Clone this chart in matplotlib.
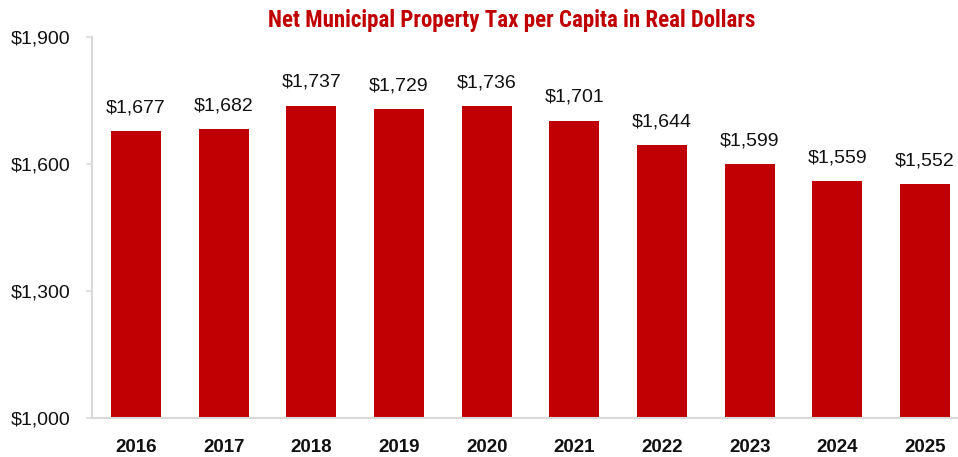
import matplotlib
matplotlib.use("Agg")
import matplotlib.pyplot as plt
from matplotlib.ticker import FuncFormatter

years = ["2016", "2017", "2018", "2019", "2020", "2021", "2022", "2023", "2024", "2025"]
tax_per_capita = [1677, 1682, 1737, 1729, 1736, 1701, 1644, 1599, 1559, 1552]
y_ticks = [1000, 1300, 1600, 1900]

BAR_RED = "#C00000"
AXIS_GREY = "#D9D9D9"
TEXT = "#111111"
SANS = ["Liberation Sans", "DejaVu Sans"]
TITLE_FONT = ["Roboto Condensed", "Liberation Sans", "DejaVu Sans"]

W, H = 958, 457
fig = plt.figure(figsize=(W / 100, H / 100), dpi=100)
ax = fig.add_axes([92 / W, (H - 418) / H, (958 - 92) / W, (418 - 37) / H])

x = list(range(len(years)))
ax.bar(x, tax_per_capita, width=0.57, color=BAR_RED, zorder=2)

for xi, v in zip(x, tax_per_capita):
    ax.annotate(f"${v:,}", (xi, v), xytext=(0, 11), textcoords="offset points",
                ha="center", va="bottom", fontsize=14, family=SANS, color=TEXT)

ax.set_ylim(1000, 1900)
ax.set_xlim(-0.502, 9.376)
ax.set_yticks(y_ticks)
ax.yaxis.set_major_formatter(FuncFormatter(lambda v, p: f"${int(v):,}"))
ax.set_xticks(x)
ax.set_xticklabels(years)

for lbl in ax.get_yticklabels():
    lbl.set_family(SANS)
    lbl.set_fontsize(14)
    lbl.set_color(TEXT)
for lbl in ax.get_xticklabels():
    lbl.set_family(SANS)
    lbl.set_fontsize(13.5)
    lbl.set_fontweight("bold")
    lbl.set_color(TEXT)

ax.tick_params(axis="y", length=4.5, width=1.2, color=AXIS_GREY, pad=11)
ax.tick_params(axis="x", length=0, pad=15)

for side in ("top", "right"):
    ax.spines[side].set_visible(False)
for side in ("left", "bottom"):
    ax.spines[side].set_color(AXIS_GREY)
    ax.spines[side].set_linewidth(1.5)

fig.text(512 / W, 1 - 20 / H, "Net Municipal Property Tax per Capita in Real Dollars",
         ha="center", va="center", fontsize=16.5, fontweight="bold",
         family=TITLE_FONT, color=BAR_RED)

fig.savefig("out.png", dpi=100)
